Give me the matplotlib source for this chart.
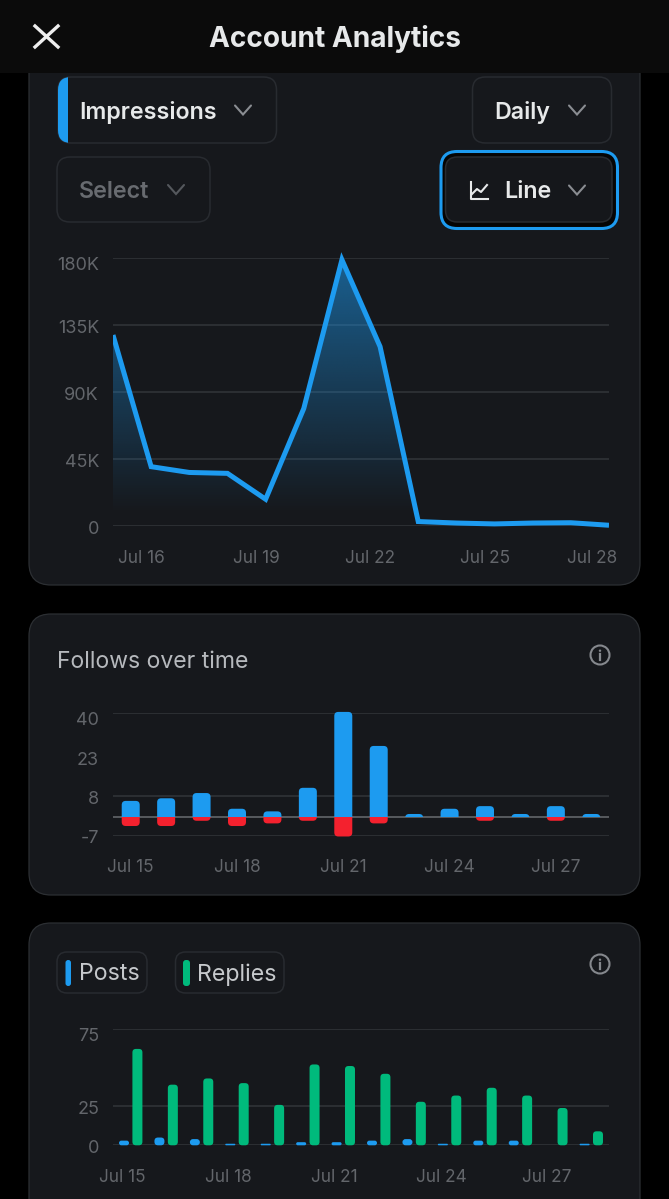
import numpy as np
import matplotlib
matplotlib.use("Agg")
import matplotlib.pyplot as plt
from matplotlib.patches import FancyBboxPatch, Circle, PathPatch
from matplotlib.path import Path
from matplotlib.transforms import Bbox, TransformedBbox, ScaledTranslation

plt.rcParams['font.family'] = ['Inter', 'DejaVu Sans']

# ---------- data ----------
impression_days = list(range(15, 29))
impressions = [128400, 39900, 36000, 35400, 18000, 79000, 179000, 120600,
               3000, 2000, 1400, 2000, 2200, 500]
impression_ticks = [0, 45000, 90000, 135000, 180000]
impression_tick_labels = ['0', '45K', '90K', '135K', '180K']
impression_x_labels = ['Jul 16', 'Jul 19', 'Jul 22', 'Jul 25', 'Jul 28']

follows = [6, 7, 9, 3, 2, 11, 40, 27, 1, 3, 4, 1, 4, 1]
unfollows = [3, 3, 1, 3, 2, 1, 7, 2, 0, 0, 1, 0, 1, 0]
follow_ticks = [-7, 8, 23, 40]
follow_tick_labels = ['-7', '8', '23', '40']

posts = [3, 5, 4, 1, 1, 2, 2, 3, 4, 1, 3, 3, 0, 1]
replies = [62, 39, 43, 40, 26, 52, 51, 46, 28, 32, 37, 32, 24, 9]
post_ticks = [0, 25, 75]
post_tick_labels = ['0', '25', '75']
band_x_labels = ['Jul 15', 'Jul 18', 'Jul 21', 'Jul 24', 'Jul 27']

# ---------- colours ----------
BLUE = '#1d9bf0'
GREEN = '#00ba7c'
RED = '#f4212e'
CARD = '#16181c'
EDGE = '#2c2f33'
PILL = '#282b30'
GRID = '#2c2f33'
LABEL = '#63666b'

W, H = 669, 1199
fig = plt.figure(figsize=(W / 100, H / 100), dpi=100, facecolor='black')
ui = fig.add_axes([0, 0, 1, 1])
ui.set_xlim(0, W)
ui.set_ylim(H, 0)
ui.axis('off')


def rbox(x0, y0, x1, y1, r, fc, ec='none', lw=1.0, z=1):
    p = FancyBboxPatch((x0, y0), x1 - x0, y1 - y0,
                       boxstyle=f'round,pad=0,rounding_size={r}',
                       fc=fc, ec=ec, lw=lw, zorder=z)
    ui.add_patch(p)
    return p


def chevron(cx, cy, color='#8a8d92'):
    ui.plot([cx - 8, cx, cx + 8], [cy - 5, cy + 4, cy - 5], color=color, lw=1.5,
            zorder=5, solid_capstyle='round', solid_joinstyle='miter')


def label(x, y, s, color='#e7e9ea', px=23, weight='normal', ha='left'):
    ui.text(x, y + 1.5, s, color=color, fontsize=px * 0.72, fontweight=weight,
            ha=ha, va='center', zorder=6)


def info(cx, cy):
    c = '#85888d'
    ui.add_patch(Circle((cx, cy), 9.5, fc='none', ec=c, lw=1.5, zorder=5))
    ui.plot([cx, cx], [cy - 1, cy + 5], color=c, lw=1.6, zorder=5)
    ui.add_patch(Circle((cx, cy - 4.3), 1.2, fc=c, ec='none', zorder=5))


# cards
rbox(29, 40, 640, 585, 22, CARD, EDGE, 0.9)
rbox(29, 614, 640, 895, 22, CARD, EDGE, 0.9)
rbox(29, 923, 640, 1260, 22, CARD, EDGE, 0.9)

# header
ui.fill_between([0, W], 0, 73, color='#0b0b0b', lw=0, zorder=3)
ui.plot([35, 58], [26, 47], color='#eeeeee', lw=2.4, zorder=4)
ui.plot([35, 58], [47, 26], color='#eeeeee', lw=2.4, zorder=4)
label(335, 37.5, 'Account Analytics', '#e7e9ea', 28, 'bold', 'center')

# pills
p = rbox(58, 77, 276.5, 143, 13, CARD, PILL, 1.1, 2)
strip = ui.fill_between([58, 68], 77, 143, color=BLUE, lw=0, zorder=3)
strip.set_clip_path(p)
label(79, 110.5, 'Impressions', '#e7e9ea', 23.2, 'semibold')
chevron(243, 110.5)
rbox(472.5, 77, 611.5, 143, 13, CARD, PILL, 1.1, 2)
label(494, 110.5, 'Daily', '#e7e9ea', 23.2, 'semibold')
chevron(577, 110.5)
rbox(57, 157, 210, 222, 13, CARD, PILL, 1.1, 2)
label(79, 190.5, 'Select', '#686b70', 23.2, 'semibold')
chevron(176, 190, '#55585d')
rbox(441, 151.5, 617.5, 228.5, 16, '#050505', BLUE, 2.2, 2)
rbox(445.5, 157, 612, 222, 12, '#15171b', PILL, 1.1, 3)
label(504, 190.5, 'Line', '#e7e9ea', 23.2, 'semibold')
chevron(577, 190.5)
ui.plot([471, 471, 488], [182, 199, 199], color='#e7e9ea', lw=1.5, zorder=5)
ui.plot([472, 477, 481, 487], [194, 189, 192, 185], color='#e7e9ea', lw=1.5, zorder=5)

# card 2 / 3 headings
label(57, 660, 'Follows over time', '#b6b9bd', 23)
info(600, 655)
info(600, 964)
rbox(57, 952, 147, 993, 10, CARD, PILL, 1.1, 2)
rbox(65.5, 960, 71, 986, 2.7, BLUE, z=3)
label(79, 973, 'Posts', '#c6c9cc', 23.2)
rbox(175.5, 952, 284, 993, 10, CARD, PILL, 1.1, 2)
rbox(183, 960, 190, 986, 3, GREEN, z=3)
label(197, 973, 'Replies', '#c6c9cc', 23.2)


def chart_axes(x0, x1, ytop, ybot, ylim, xlim):
    ax = fig.add_axes([x0 / W, 1 - ybot / H, (x1 - x0) / W, (ybot - ytop) / H])
    ax.patch.set_alpha(0)
    for s in ax.spines.values():
        s.set_visible(False)
    ax.set_xlim(*xlim)
    ax.set_ylim(*ylim)
    ax.tick_params(length=0, labelcolor=LABEL)
    return ax


def finish(ax, yticks, ylabels, grid, xticks, xlabels, label_y_px, ybot, shifted):
    ax.hlines(grid, *ax.get_xlim(), color=GRID, lw=1.4, zorder=1)
    ax.set_yticks(yticks, ylabels)
    ax.tick_params(axis='y', pad=10, labelsize=18 * 0.72)
    ax.set_xticks(xticks, xlabels)
    ax.tick_params(axis='x', pad=(label_y_px - ybot - 6.5) * 0.72, labelsize=17.2 * 0.72)
    for t in ax.get_yticklabels():
        dy = shifted.get(t.get_text(), 1)
        t.set_transform(t.get_transform() + ScaledTranslation(0, -dy / 100, fig.dpi_scale_trans))


# ---------- impressions line ----------
ax1 = chart_axes(113, 609, 258.3, 526, (0, 180000), (0, 13))
xs = np.arange(len(impression_days))
ramp = np.zeros((256, 2, 4))
ramp[..., :3] = matplotlib.colors.to_rgb(BLUE)
ramp[..., 3] = np.clip((np.linspace(180, 0, 256) - 8) / 172, 0, 1)[:, None] * 0.55
im = ax1.imshow(ramp, extent=(0, 13, 0, 180000), aspect='auto', origin='upper', zorder=2,
                interpolation='bilinear')
verts = [(0, 0)] + list(zip(xs, impressions)) + [(13, 0), (0, 0)]
codes = [Path.MOVETO] + [Path.LINETO] * (len(verts) - 2) + [Path.CLOSEPOLY]
im.set_clip_path(PathPatch(Path(verts, codes), transform=ax1.transData))
line, = ax1.plot(xs, impressions, color=BLUE, lw=3.6, zorder=3, solid_joinstyle='miter',
                 solid_capstyle='butt')
line.set_clip_box(TransformedBbox(Bbox([[0, -20000], [13, 200000]]), ax1.transData))
ax1.set_xlim(0, 13)
ax1.set_ylim(0, 180000)
finish(ax1, impression_ticks, impression_tick_labels, impression_ticks,
       [0.75, 3.75, 6.75, 9.75, 12.55], impression_x_labels, 556.5, 526, {'180K': 5.5})

# ---------- follows bars ----------
ax2 = chart_axes(113, 609, 712.7, 835.7, (-7, 40), (-0.5, 13.5))
asp2 = (123.0 / 47) ** -1 * (496 / 14)  # data-y per data-x at equal pixels
r2 = 4 / (496 / 14)


def bar2(i, a, b, clip, color):
    w = 18 / (496 / 14)
    p = FancyBboxPatch((i - w / 2, a), w, b - a,
                       boxstyle=f'round,pad=0,rounding_size={r2}',
                       mutation_aspect=asp2, fc=color, ec='none', zorder=3)
    ax2.add_patch(p)
    p.set_clip_box(TransformedBbox(Bbox([[i - 1, clip[0]], [i + 1, clip[1]]]), ax2.transData))


ax2.hlines(0, -0.5, 13.5, color='#5c5f64', lw=1.3, zorder=2)
for i, (f, u) in enumerate(zip(follows, unfollows)):
    bar2(i, -3, f + 0.3, (0, 41), BLUE)
    if u:
        bar2(i, -u - 0.3, 3, (-8, 0), RED)
finish(ax2, follow_ticks, follow_tick_labels, [-7, 8, 40],
       [0, 3, 6, 9, 12], band_x_labels, 865.7, 835.7, {'40': 5.5})

# ---------- posts / replies bars ----------
ax3 = chart_axes(113, 609, 1028.7, 1145.3, (0, 75), (-0.5, 13.5))
u_x = 496 / 14
asp3 = (116.6 / 75) ** -1 * u_x


def bar3(x, v, w_px, color):
    w = w_px / u_x
    r = min(3.5, v * (116.6 / 75) / 2) / u_x
    ax3.add_patch(FancyBboxPatch((x - w / 2, 0), w, v,
                                 boxstyle=f'round,pad=0,rounding_size={r}',
                                 mutation_aspect=asp3, fc=color, ec='none', zorder=3,
                                 clip_on=False))


off = 6.7 / u_x
for i, (a, b) in enumerate(zip(posts, replies)):
    if a:
        bar3(i - off, a, 10, BLUE)
    bar3(i + off, b, 10, GREEN)
finish(ax3, post_ticks, post_tick_labels, post_ticks,
       [-0.245, 2.755, 5.755, 8.755, 11.755], band_x_labels, 1175.7, 1145.3, {'75': 5.5})

fig.savefig('out.png', dpi=100, facecolor='black')
